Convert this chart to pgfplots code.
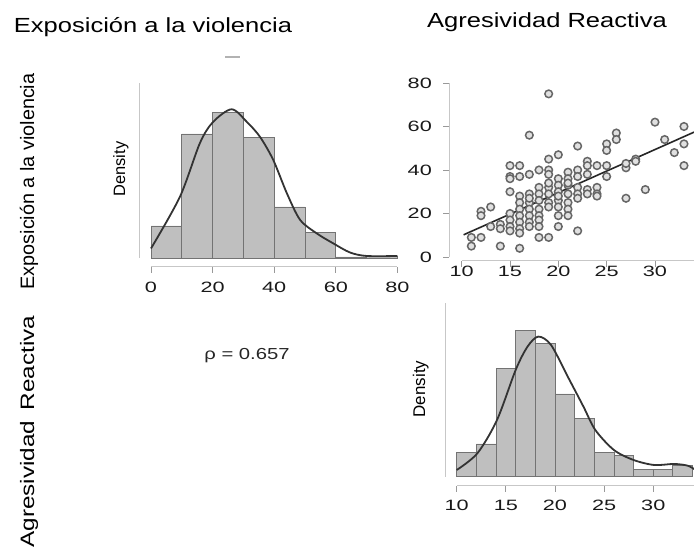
\documentclass[border=0pt]{standalone}
\usepackage{fontspec}
\setmainfont{Liberation Sans}
\usepackage{graphicx}
\usepackage{pgfplots}
\pgfplotsset{compat=1.18}
\newcommand\tl[1]{\scalebox{1.45}[1]{\fontsize{15}{15}\selectfont #1}}
\pgfplotsset{
  rpanel/.style={
    anchor=south west, scale only axis, clip=false,
    axis line style={draw=none},
    axis x line*=bottom, axis y line*=left,
    tick align=outside, major tick length=6bp,
    tick style={black!40, line width=0.9bp},
    /pgf/number format/assume math mode=true,
    xticklabel={\tl{\pgfmathprintnumber{\tick}}},
    yticklabel={\tl{\pgfmathprintnumber{\tick}}},
    ticklabel style={text=black!90},
  },
}
\begin{document}
\begin{tikzpicture}[x=1bp,y=1bp]
\useasboundingbox (0,0) rectangle (694,551);

% ---------- top-left histogram ----------
\begin{axis}[rpanel, at={(151bp,284bp)}, width=246.4bp, height=184bp,
  xmin=0, xmax=80, ymin=-0.00179, ymax=0.03483,
  xtick={0,20,40,60,80}, ytick=\empty,
  xticklabel style={anchor=north, inner sep=0pt, yshift=-9bp}]
\addplot[ybar interval, fill=black!25, draw=black!55, line width=0.9bp] coordinates {
(0,0.00637)(10,0.02468)(20,0.02905)(30,0.02408)(40,0.01015)(50,0.00517)(60,0.00020)(70,0.00030)(80,0.00030)};
\addplot[smooth, black!80, line width=1.8bp] coordinates {
(0,0.0019)(9.4,0.0122)(15.9,0.0229)(20.2,0.0271)(26.2,0.0296)(31.1,0.0271)(35.4,0.0241)(39.7,0.0195)(44.1,0.0129)(48.4,0.0076)(53.8,0.0049)(59.2,0.0029)(64.6,0.0011)(70,0.0004)(80,0.0004)};
\draw[black!22, line width=1bp] (axis cs:0,-0.00179) -- (axis cs:80,-0.00179);
\draw[black!22, line width=1bp] (axis cs:-3.8,0) -- (axis cs:-3.8,0.03483);
\end{axis}

% ---------- scatter ----------
\begin{axis}[rpanel, at={(449bp,290bp)}, width=254.3bp, height=186.7bp,
  xmin=8.69, xmax=35, ymin=-1.84, ymax=84,
  xtick={10,15,20,25,30}, ytick={0,20,40,60,80},
  xticklabel style={anchor=north, inner sep=0pt, yshift=1bp},
  yticklabel style={anchor=east, inner sep=0pt, xshift=-11bp}]
\addplot[only marks, mark=*, mark size=3.8bp,
  mark options={fill=black!12, draw=black!60, line width=1.5bp}] coordinates {
(19,75)(17,56)(30,62)(33,60)(26,57)(26,54)(25,52)(25,49)(22,51)(20,47)(19,45)
(31,54)(33,52)(32,48)(33,42)(29,31)(27,27)(27,41)(28,45)(28,44)(27,43)(25,42)
(25,37)(24,42)(23,44)(23,42)(22,40)(21,39)(23,38)(22,37)(21,36)(20,36)(19,40)
(19,38)(18,40)(17,38)(15,42)(16,42)(15,37)(15,36)(16,37)(15,30)(24,32)(24,29)
(23,31)(23,29)(22,32)(22,29)(22,27)(21,29)(21,25)(21,22)(21,19)(20,26)(20,23)
(20,19)(20,14)(22,12)(19,9)(18,9)(19,32)(19,29)(19,25)(19,23)(18,32)(18,29)
(18,26)(18,22)(18,19)(18,17)(18,14)(17,29)(17,25)(17,22)(17,19)(17,16)(17,14)
(16,28)(16,25)(16,22)(16,19)(16,16)(16,13)(16,11)(16,4)(15,20)(15,17)(15,14)
(15,12)(14,15)(14,13)(13,23)(12,21)(12,19)(12,9)(13,14)(11,9)(11,5)(14,5)
(21,33)(20,33)(20,30)(21,34)(24,28)(19,34)(20,28)(17,27)};
\addplot[black!85, line width=1.6bp] coordinates {(10.2,10.2)(35,59.3)};
\draw[black!22, line width=1bp] (axis cs:10,-1.84) -- (axis cs:35,-1.84);
\draw[black!22, line width=1bp] (axis cs:8.69,0) -- (axis cs:8.69,80);
\end{axis}

% ---------- bottom-right histogram ----------
\begin{axis}[rpanel, at={(445bp,65bp)}, width=257.4bp, height=183bp,
  xmin=8.81, xmax=35, ymin=-0.00709, ymax=0.1323,
  xtick={10,15,20,25,30}, ytick=\empty,
  xticklabel style={anchor=north, inner sep=0pt, yshift=-8bp}]
\addplot[ybar interval, fill=black!25, draw=black!55, line width=0.9bp] coordinates {
(10,0.0185)(12,0.0249)(14,0.0825)(16,0.1112)(18,0.1016)(20,0.0630)(22,0.0440)(24,0.0185)(26,0.0158)(28,0.0056)(30,0.0056)(32,0.0089)(34,0.0089)};
\addplot[smooth, black!80, line width=1.8bp] coordinates {
(10,0.0051)(12.1,0.0178)(14.1,0.0432)(16,0.0813)(17.2,0.0990)(18.3,0.1067)(19.6,0.1003)(21.3,0.0762)(22.9,0.0533)(24.1,0.0356)(26,0.0203)(28,0.0127)(30.1,0.0089)(32.1,0.0097)(33.5,0.0084)(34.3,0.0051)};
\draw[black!22, line width=1bp] (axis cs:10,-0.00709) -- (axis cs:35,-0.00709);
\draw[black!22, line width=1bp] (axis cs:8.81,0) -- (axis cs:8.81,0.1323);
\end{axis}

% ---------- texts ----------
\node[anchor=base, inner sep=0] at (153,518) {\scalebox{1.25}[1]{\fontsize{20.5}{24}\selectfont Exposición a la violencia}};
\node[anchor=base, inner sep=0] at (547,523) {\scalebox{1.25}[1]{\fontsize{20.5}{24}\selectfont Agresividad Reactiva}};
\node[anchor=base, inner sep=0, rotate=90] at (34,369.5) {\scalebox{1.02}[1]{\fontsize{19.5}{22}\selectfont Exposición a la violencia}};
\node[anchor=base, inner sep=0, rotate=90] at (34,119.3) {\scalebox{1.25}[1]{\fontsize{19.5}{22}\selectfont Agresividad\hspace{3pt} Reactiva}};
\node[anchor=base, inner sep=0, rotate=90] at (125,382) {\fontsize{16.5}{18}\selectfont Density};
\node[anchor=base, inner sep=0, rotate=90] at (425,162) {\fontsize{17}{18}\selectfont Density};
\node[inner sep=0, text=black!85] at (247,195) {\scalebox{1.27}[1]{\fontsize{16}{18}\selectfont ρ = 0.657}};
\draw[black!30, line width=1.5bp] (225,494) -- (240,494);
\end{tikzpicture}
\end{document}
